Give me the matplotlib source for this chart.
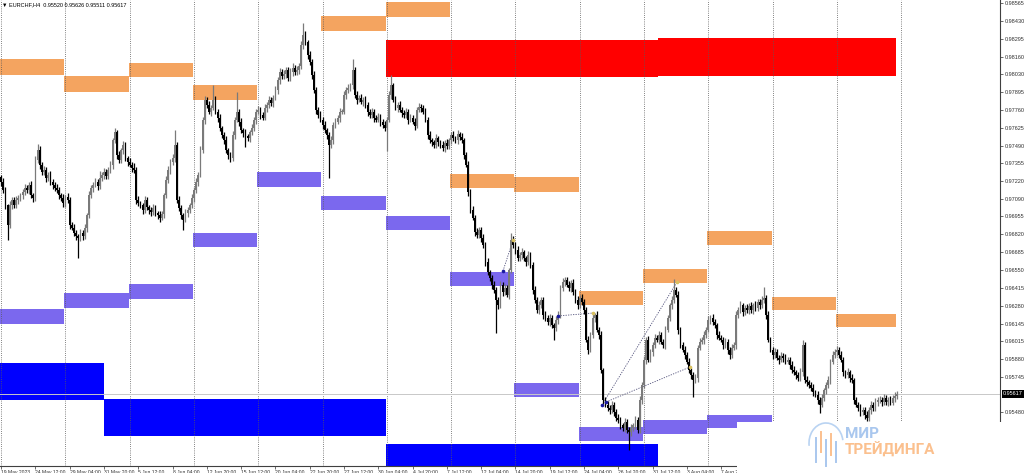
import matplotlib
matplotlib.use("Agg")
import matplotlib.pyplot as plt
from matplotlib.patches import Rectangle, Arc
from matplotlib.lines import Line2D
import matplotlib.transforms as mtransforms

plt.rcParams['font.family'] = ['Liberation Sans', 'DejaVu Sans']

W, H = 1024, 473

# EURCHF H4 closes, in 1e-5 units, one per bar (19 May 20:00 onwards)
closes_txt = """
97215 97155 97040 96890 97040 97080 97040 97080 97095 97115
97140 97170 97155 97195 97115 97095 97380 97455 97345 97290
97305 97245 97270 97215 97195 97170 97155 97115 97095 97055
97100 97080 96890 96870 96830 96805 96790 96830 96805 96870
96965 97115 97170 97195 97215 97185 97245 97270 97290 97260
97305 97345 97530 97590 97420 97380 97455 97495 97395 97365
97345 97320 97305 97080 97055 97040 97005 97080 97025 97005
96990 97020 96980 96965 96945 96975 97115 97230 97305 97365
97395 97495 97080 97020 96965 96930 96980 97005 97040 97095
97155 97215 97270 97455 97685 97835 97795 97745 97775 97835
97745 97700 97620 97570 97530 97455 97420 97395 97570 97685
97745 97670 97605 97585 97560 97545 97590 97620 97685 97745
97760 97720 97700 97775 97795 97835 97810 97850 97910 97985
98045 98015 98030 98060 98000 98045 98075 98045 98060 98090
98250 98325 98270 98175 98120 98020 97910 97760 97720 97685
97645 97605 97570 97495 97530 97645 97670 97700 97745 97745
97870 97910 97925 97945 98060 97870 97835 97850 97820 97835
97795 97745 97720 97745 97700 97685 97705 97670 97645 97620
97685 97870 97945 97835 97775 97795 97760 97735 97720 97745
97685 97700 97670 97640 97760 97780 97775 97745 97685 97570
97530 97515 97495 97545 97515 97495 97470 97510 97485 97530
97570 97545 97530 97575 97555 97530 97420 97345 97140 97005
96945 96840 96815 96855 96790 96740 96610 96535 96490 96440
96400 96325 96285 96440 96385 96415 96365 96550 96780 96740
96700 96640 96665 96685 96640 96610 96665 96590 96400 96325
96250 96285 96325 96210 96190 96160 96190 96135 96115 96175
96210 96415 96460 96475 96440 96415 96455 96385 96325 96285
96340 96310 96250 96025 95950 96060 96190 96210 96100 96060
95795 95570 95535 95510 95495 95535 95480 95435 95420 95380
95360 95405 95345 95330 95360 95380 95420 95345 95570 95685
95875 96025 95875 95935 95985 96040 96025 96060 96010 95985
96100 96190 96285 96325 96400 96365 96100 95985 95950 95910
95860 95795 95760 95720 95735 95965 96010 96025 96060 96100
96175 96190 96160 96135 96060 96040 96025 95985 96010 95950
95910 95965 95985 96210 96250 96285 96235 96265 96250 96280
96250 96285 96265 96310 96285 96325 96340 96210 96025 95950
95910 95935 95890 95875 95905 95890 95860 95875 95835 95795
95780 95760 95735 95780 95985 95720 95705 95685 95660 95630
95610 95570 95535 95585 95645 95685 95720 95860 95910 95935
95950 95910 95875 95780 95760 95780 95735 95720 95570 95535
95510 95480 95495 95460 95435 95495 95535 95510 95555 95570
95570 95555 95585 95555 95570 95550 95585 95600 95617
"""

# wick lengths above / below the body, in 0.0001 units
up_txt = """
2 3 2 1 3 2 2 3 2 2  2 3 2 2 3 2 3 5 3 2  3 2 2 3 2 2 3 2 2 3
2 3 2 2 3 2 2 3 2 3  2 3 2 2 3 2 5 2 3 2  2 3 2 3 2 3 2 3 2 2
3 2 4 2 3 2 2 3 2 2  2 3 2 2 3 2 2 3 3 2  3 11 2 3 2 2 3 2 2 3
2 3 2 3 2 3 2 3 2 11  3 2 3 2 2 3 2 2 3 2  15 2 3 2 3 2 2 3 2 2
3 2 2 3 2 3 2 2 3 2  3 2 3 2 2 3 4 2 3 2  3 9 3 2 3 2 3 2 2 3
2 3 2 2 3 2 3 2 3 2  3 2 3 2 8 2 3 2 3 2  3 2 2 3 2 2 3 2 2 3
2 3 8 2 3 2 3 2 2 3  2 3 2 3 2 3 2 2 3 2  3 2 2 3 2 2 3 2 3 2
2 3 2 3 2 3 2 2 3 2  3 2 3 2 2 3 2 3 2 2  3 2 2 3 2 3 2 2 5 3
2 3 2 3 2 2 3 2 2 3  2 3 2 2 3 2 3 2 2 3  3 2 3 2 2 3 2 3 2 3
2 3 2 2 3 2 3 2 3 2  3 2 2 3 2 3 2 2 3 2  2 3 2 2 3 2 3 2 3 2
3 2 3 2 2 3 2 3 2 2  3 2 2 3 8 2 3 2 2 3  2 3 2 2 3 2 3 2 3 2
3 2 3 2 2 3 2 2 3 2  2 3 2 3 2 3 2 2 3 2  3 2 3 2 2 3 8 2 3 2
2 3 2 2 3 2 3 2 2 3  3 2 2 3 4 2 3 2 2 3  2 3 2 3 2 2 3 2 3 2
3 2 3 2 2 3 2 3 2 2  2 3 2 2 3 2 3 2 3 2  3 2 3 2 2 3 2 3 2
"""
down_txt = """
3 2 3 11 2 3 2 2 3 2  3 2 2 3 2 3 2 2 3 2  2 3 2 2 3 2 2 3 2 3
3 2 3 2 2 3 15 2 3 2  3 2 2 3 2 3 2 2 3 2  2 2 3 2 3 2 2 3 2 3
2 3 2 3 2 2 3 2 2 3  3 2 2 3 3 2 3 2 2 3  2 3 2 2 3 8 2 3 2 2
3 2 3 2 2 3 2 2 3 2  2 3 2 2 3 2 3 3 2 3  2 3 2 3 8 2 3 2 2 3
2 3 2 2 3 2 2 3 2 3  3 2 2 3 2 2 3 2 2 3  2 3 2 3 2 3 2 3 2 2
3 2 3 25 2 3 2 2 3 2  2 3 2 2 3 2 3 2 2 3  2 3 2 2 3 2 2 3 2 2
17 2 3 2 2 3 2 3 2 2  3 2 2 3 2 2 3 2 2 3  2 3 2 2 3 2 2 3 2 2
3 2 2 3 2 2 3 2 3 2  2 3 2 2 3 2 3 2 2 3  2 25 3 2 3 2 2 3 2 2
3 2 2 3 2 3 2 2 3 2  2 3 2 3 2 2 3 2 9 2  3 2 2 3 2 2 3 2 2 3
2 2 3 2 3 2 2 3 2 3  2 3 2 2 3 2 3 2 2 3  2 3 2 14 3 2 3 2 2 3
2 3 2 2 3 2 2 3 2 2  3 2 2 3 2 2 3 2 2 3  2 2 3 13 2 3 2 2 3 2
2 3 2 2 3 2 2 3 2 3  3 2 2 3 2 2 3 2 2 3  2 3 2 2 3 2 2 3 2 2
3 2 2 3 2 3 2 2 3 2  2 3 2 2 3 2 3 2 2 3  2 3 6 2 2 3 2 3 2 2
3 2 2 3 2 2 3 2 3 2  2 3 2 3 2 2 3 2 2 3  2 3 2 2 3 2 2 3 2
"""

first_open = 0.97250
last_price = 0.95617

closes = [int(v) / 1e5 for v in closes_txt.split()]
up_wick = [int(v) / 1e4 for v in up_txt.split()]
down_wick = [int(v) / 1e4 for v in down_txt.split()]
n = min(len(closes), len(up_wick), len(down_wick))
closes, up_wick, down_wick = closes[:n], up_wick[:n], down_wick[:n]
opens = [first_open] + closes[:-1]

# zones: (bar from, bar to, low price, high price)
orange_zones = [
    (-0.5, 29.5, 0.98022, 0.98143), (29.5, 59.5, 0.97894, 0.98015),
    (59.5, 89.5, 0.98007, 0.98113), (89.5, 119.5, 0.97834, 0.97947),
    (149.5, 179.5, 0.98354, 0.98467), (179.5, 209.5, 0.98460, 0.98573),
    (209.5, 239.5, 0.97170, 0.97276), (239.5, 269.5, 0.97140, 0.97253),
    (269.5, 299.5, 0.96287, 0.96393), (299.5, 329.5, 0.96453, 0.96559),
    (329.5, 359.5, 0.96740, 0.96846), (359.5, 389.5, 0.96250, 0.96348),
    (389.5, 417.5, 0.96121, 0.96220),
]
purple_zones = [
    (-0.5, 29.5, 0.96144, 0.96257), (29.5, 59.5, 0.96265, 0.96378),
    (59.5, 89.5, 0.96333, 0.96446), (89.5, 119.5, 0.96725, 0.96831),
    (119.5, 149.5, 0.97177, 0.97291), (149.5, 179.5, 0.97004, 0.97110),
    (179.5, 209.5, 0.96853, 0.96959), (209.5, 239.5, 0.96431, 0.96536),
    (239.5, 269.5, 0.95593, 0.95699), (269.5, 299.5, 0.95261, 0.95367),
    (299.5, 329.5, 0.95314, 0.95420), (329.5, 343.5, 0.95360, 0.95458),
    (343.5, 359.5, 0.95405, 0.95458),
]
blue_zones = [
    (-0.5, 48, 0.95571, 0.95850), (48, 179.5, 0.95299, 0.95578),
    (179.5, 306.5, 0.94900, 0.95239),
]
red_zones = [
    (179.5, 306.5, 0.98007, 0.98286), (306.5, 417.5, 0.98015, 0.98301),
]

trend_lines = [
    ((234.2, 0.96544), (238.9, 0.96778)),
    ((259.9, 0.96205), (276.2, 0.96227)),
    ((280.4, 0.95533), (315.4, 0.96461)),
    ((282.3, 0.95556), (321.5, 0.95820)),
]

y_ticks = [0.98565, 0.98430, 0.98295, 0.98160, 0.98030, 0.97895, 0.97760,
           0.97625, 0.97490, 0.97355, 0.97220, 0.97090, 0.96955, 0.96820,
           0.96685, 0.96550, 0.96415, 0.96280, 0.96145, 0.96015, 0.95880,
           0.95745, 0.95480]
x_tick_bars = list(range(0, 337, 16))
x_tick_labels = ["19 May 2023", "24 May 12:00", "29 May 04:00", "31 May 20:00",
                 "5 Jun 12:00", "8 Jun 04:00", "12 Jun 20:00", "15 Jun 12:00",
                 "20 Jun 04:00", "22 Jun 20:00", "27 Jun 12:00", "30 Jun 04:00",
                 "4 Jul 20:00", "7 Jul 12:00", "12 Jul 04:00", "14 Jul 20:00",
                 "19 Jul 12:00", "24 Jul 04:00", "26 Jul 20:00", "31 Jul 12:00",
                 "3 Aug 04:00", "7 Aug 20:00"]
grid_bars = list(range(0, 421, 30))

fig = plt.figure(figsize=(W / 100, H / 100), dpi=100)
ax = fig.add_axes([0, 7 / H, 1000 / W, 466 / H])
ax.set_xlim(-0.5, 466.1)
ax.set_ylim(0.95073, 0.98588)

for zones, col in [(orange_zones, '#f4a460'), (purple_zones, '#7b68ee'),
                   (blue_zones, '#0000ff'), (red_zones, '#ff0000')]:
    for x0, x1, lo, hi in zones:
        ax.add_patch(Rectangle((x0, lo), x1 - x0, hi - lo, facecolor=col,
                               edgecolor='none', zorder=1))

for g in grid_bars:
    ax.axvline(g, color='#5a5a5a', lw=0.6, ls=(0, (1, 1.6)), zorder=2)

ax.axhline(last_price, color='#c8c8c8', lw=0.7, zorder=2)

for (xa, ya), (xb, yb) in trend_lines:
    ax.plot([xa, xb], [ya, yb], color='#50507a', lw=0.6, ls=(0, (1.5, 1.5)), zorder=3)
    ax.plot([xa], [ya], 'o', ms=1.6, color='#1a1aa0', zorder=6)
    ax.plot([xb], [yb], 'o', ms=1.6, color='#d8c060', zorder=6)

# candles
idx = list(range(n))
bull = ['#7a7a7a' if c >= o else '#000000' for o, c in zip(opens, closes)]
highs = [max(o, c) + u for o, c, u in zip(opens, closes, up_wick)]
lows = [min(o, c) - d for o, c, d in zip(opens, closes, down_wick)]
ax.vlines(idx, lows, highs, colors=bull, lw=0.9, zorder=4)
bodies = [max(abs(c - o), 0.00004) for o, c in zip(opens, closes)]
ax.bar(idx, bodies, bottom=[min(o, c) for o, c in zip(opens, closes)],
       width=0.8, color=bull, linewidth=0, zorder=5)

# axes styling
for s in ['top', 'left']:
    ax.spines[s].set_visible(False)
ax.spines['right'].set_color('#404040')
ax.spines['bottom'].set_color('#404040')
ax.spines['right'].set_linewidth(0.8)
ax.spines['bottom'].set_linewidth(0.8)
ax.yaxis.tick_right()
ax.set_yticks(y_ticks)
ax.set_yticklabels([f"{v:.5f}" for v in y_ticks])
ax.tick_params(axis='y', length=2, width=0.5, pad=1.5, labelsize=4, colors='#303030')
ax.set_xticks(x_tick_bars)
ax.set_xticklabels(x_tick_labels, ha='left')
ax.tick_params(axis='x', length=2, width=0.5, pad=0.8, labelsize=3.6, colors='#303030')

blend = mtransforms.blended_transform_factory(ax.transAxes, ax.transData)
ax.text(1.003, last_price, f"{last_price:.5f}", transform=blend, fontsize=4,
        color='white', va='center', ha='left',
        bbox=dict(boxstyle='square,pad=0.25', fc='black', ec='none'), zorder=7)

fig.text(2 / W, 1 - 5 / H, "\u25bc EURCHF,H4  0.95520 0.95626 0.95511 0.95617",
         fontsize=4, va='center', ha='left', color='black')

# watermark block
fig.patches.append(Rectangle((737 / W, 0), (W - 737) / W, 51 / H,
                             transform=fig.transFigure, facecolor='white',
                             edgecolor='none', zorder=10))
fig.text(845 / W, 1 - 434 / H, "МИР", fontsize=11, fontweight='bold',
         family=['Roboto', 'DejaVu Sans'], color='#a9c7ee', va='center',
         ha='left', zorder=11)
fig.text(845 / W, 1 - 450 / H, "ТРЕЙДИНГА", fontsize=11, fontweight='bold',
         family=['Roboto', 'DejaVu Sans'], color='#fbc08e', va='center',
         ha='left', zorder=11)
fig.patches.append(Arc((826 / W, 1 - 443 / H), 34 / W, 40 / H, theta1=20,
                       theta2=200, transform=fig.transFigure, color='#b9d3f2',
                       lw=1.2, zorder=11))
for px, y0, y1, col in [(816, 438, 462, '#a9c7ee'), (821, 432, 452, '#fbc08e'),
                        (826, 440, 466, '#a9c7ee'), (831, 434, 455, '#fbc08e'),
                        (836, 442, 462, '#a9c7ee')]:
    fig.add_artist(Line2D([px / W, px / W], [1 - y0 / H, 1 - y1 / H],
                          transform=fig.transFigure, color=col, lw=1.4, zorder=11))

fig.savefig('out.png', dpi=100)
